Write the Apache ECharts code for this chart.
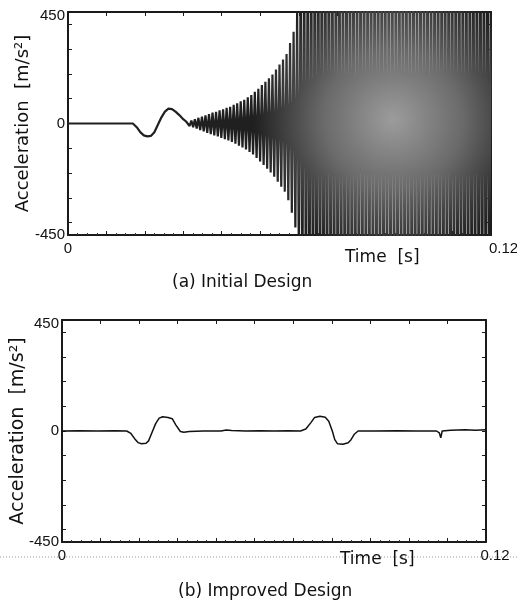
<!DOCTYPE html>
<html>
<head>
<meta charset="utf-8">
<script src="https://cdn.jsdelivr.net/npm/echarts@6/dist/echarts.min.js"></script>
<style>
  html, body { margin: 0; padding: 0; background: #fff; }
  #chart { width: 517px; height: 603px; }
</style>
</head>
<body>
<div id="chart"></div>
<script>
// ========== 数据 ==========
// (a) 初期设计：起始段 [时间 s, 加速度 m/s²]
const bumpA = [
  [0, 0], [0.0184, 0], [0.0195, -15], [0.0205, -35], [0.0215, -48], [0.0225, -52],
  [0.0235, -50], [0.0245, -35], [0.0255, -5], [0.0265, 25], [0.0275, 48], [0.0285, 60],
  [0.0295, 58], [0.0305, 48], [0.0315, 35], [0.0325, 20], [0.0335, 8]
];
// (a) 发散振动段：从 oscStartA 开始，每 oscStepA 秒一个采样
const oscStartA = 0.034;
const oscStepA = 0.0005;
const oscA = [
  8, -10, 12, -15, 17, -20, 23, -27, 28, -32, 33, -38, 38, -43, 44, -48, 47, -52, 53, -58,
  57, -63, 63, -68, 67, -74, 75, -82, 82, -90, 90, -97, 96, -105, 106, -115, 115, -125, 128, -139,
  140, -153, 155, -167, 168, -183, 183, -198, 198, -215, 218, -235, 238, -255, 258, -275, 280, -310, 325, -360,
  370, -420, 450,
  -560, 600, -640, 680, -720, 700, -760, 740, -800, 780,
  -820, 800, -780, 820, -840, 790, -810, 830, -800, 770,
  -790, 810, -830, 800, -780, 760, -800, 820, -840, 810,
  -790, 800, -820, 780, -760, 790, -810, 830, -800, 780,
  -770, 800, -820, 840, -810, 790, -800, 820, -830, 800,
  -780, 760, -790, 810, -820, 800, -780, 790, -810, 830,
  -800, 770, -790, 810, -830, 800, -780, 760, -800, 820,
  -840, 810, -790, 800, -820, 780, -760, 790, -810, 830,
  -800, 780, -770, 800, -820, 840, -810, 790, -800, 820,
  -830, 800, -780, 760, -790, 810, -820, 800, -780, 790,
  -810, 830, -800, 770, -790, 810, -830, 800, -780, 760
];
// (b) 改进设计 [时间 s, 加速度 m/s²]
const dataB = [
  [0, 0], [0.005, 1], [0.010, 0], [0.015, 1], [0.0183, 0], [0.0195, -10], [0.0205, -30],
  [0.0215, -47], [0.0225, -52], [0.0238, -50], [0.0245, -40], [0.0255, -5], [0.0265, 30],
  [0.0275, 52], [0.0285, 58], [0.0300, 55], [0.0312, 50], [0.0322, 25], [0.0335, -2],
  [0.0345, -5], [0.036, -2], [0.040, 0], [0.045, 0], [0.0465, 4], [0.048, 2], [0.052, 0],
  [0.056, 1], [0.060, 0], [0.064, 1], [0.0675, 0], [0.069, 8], [0.0705, 35], [0.0715, 55],
  [0.073, 60], [0.0745, 56], [0.0755, 40], [0.0765, 0], [0.0772, -35], [0.078, -52],
  [0.0795, -54], [0.081, -48], [0.0818, -35], [0.0828, -12], [0.0838, 0], [0.088, 0],
  [0.095, 1], [0.100, 0], [0.106, 0], [0.1068, -8], [0.1072, -28], [0.1076, 0],
  [0.110, 3], [0.114, 5], [0.117, 3], [0.120, 5]
];

// ========== 刻度 ==========
const xTicks = [0.0109, 0.0218, 0.0327, 0.0436, 0.0545, 0.0655, 0.0764, 0.0873, 0.0982, 0.1091];
const xLabels = [0, 0.12];
const yTicks = [-400, -300, -200, -100, 0, 100, 200, 300, 400];
const yLabels = [-450, 0, 450];

// 次刻度：每个主刻度区间分 4 份
const xMinorTicks = [];
const allMajor = [0].concat(xTicks, [0.12]);
for (let i = 0; i < allMajor.length - 1; i++) {
  const step = (allMajor[i + 1] - allMajor[i]) / 4;
  for (let k = 1; k < 4; k++) xMinorTicks.push(allMajor[i] + step * k);
}

const seriesA = bumpA.concat(
  oscA.map((v, i) => [Number((oscStartA + i * oscStepA).toFixed(5)), v])
);

// ========== 坐标轴工厂 ==========
const FONT = 'DejaVu Sans';
const NUM_FONT = 'Liberation Sans';
const frameLine = { show: true, onZero: false, lineStyle: { color: '#1a1a1a', width: 2 } };
const tickStyle = { color: '#1a1a1a', width: 1 };

// endShift：右端 "0.12" 文字向右偏移的量
const makeXAxes = (gridIndex, endShift) => [
  {
    type: 'value', gridIndex, min: 0, max: 0.12, position: 'bottom',
    axisLine: frameLine,
    splitLine: { show: false },
    axisTick: { show: true, inside: true, length: 4, customValues: xTicks, lineStyle: tickStyle },
    axisLabel: {
      customValues: xLabels, margin: 6, color: '#111', fontSize: 15, fontFamily: NUM_FONT,
      formatter: (v) => (v === 0 ? '0' : '{end|' + v + '}'),
      rich: { end: { fontSize: 15, fontFamily: NUM_FONT, color: '#111', padding: [0, 0, 0, endShift] } }
    }
  },
  {
    type: 'value', gridIndex, min: 0, max: 0.12, position: 'bottom',
    axisLine: { show: false, onZero: false },
    splitLine: { show: false },
    axisTick: { show: true, inside: true, length: 2, customValues: xMinorTicks,
      lineStyle: { color: '#333', width: 1 } },
    axisLabel: { show: false }
  },
  {
    type: 'value', gridIndex, min: 0, max: 0.12, position: 'top',
    axisLine: frameLine,
    splitLine: { show: false },
    axisTick: { show: true, inside: true, length: 4, customValues: xTicks, lineStyle: tickStyle },
    axisLabel: { show: false }
  }
];

const makeYAxes = (gridIndex, nameSize, nameGap) => [
  {
    type: 'value', gridIndex, min: -450, max: 450, position: 'left',
    name: 'Acceleration  [m/s²]', nameLocation: 'middle', nameGap, nameMoveOverlap: false,
    nameTextStyle: { color: '#111', fontSize: nameSize, fontFamily: FONT },
    axisLine: frameLine,
    splitLine: { show: false },
    axisTick: { show: true, inside: true, length: 4, customValues: yTicks, lineStyle: tickStyle },
    axisLabel: {
      customValues: yLabels, margin: 3, color: '#111', fontSize: 15, fontFamily: NUM_FONT,
      // 顶端 450 稍微下移
      formatter: (v) => (v === 450 ? '{top|450}' : String(v)),
      rich: { top: { fontSize: 15, fontFamily: NUM_FONT, color: '#111', padding: [8, 0, 0, 0] } }
    }
  },
  {
    type: 'value', gridIndex, min: -450, max: 450, position: 'right',
    axisLine: frameLine,
    splitLine: { show: false },
    axisTick: { show: true, inside: true, length: 4, customValues: yTicks, lineStyle: tickStyle },
    axisLabel: { show: false }
  }
];

const textTitle = (text, left, top, size) => ({
  text, left, top, padding: 0,
  textStyle: { color: '#111', fontSize: size, fontWeight: 'normal', fontFamily: FONT }
});

// ========== 渲染 ==========
const chart = echarts.init(document.getElementById('chart'));
chart.setOption({
  backgroundColor: '#fff',
  animation: false,
  title: [
    textTitle('Time  [s]', 345, 249, 17),
    textTitle('(a) Initial Design', 172, 274, 17),
    textTitle('Time  [s]', 340, 551, 17),
    textTitle('(b) Improved Design', 178, 583, 17)
  ],
  grid: [
    { left: 68, top: 12, width: 423, height: 223, outerBoundsMode: 'none', containLabel: false },
    { left: 62, top: 320, width: 424, height: 222, outerBoundsMode: 'none', containLabel: false }
  ],
  xAxis: makeXAxes(0, 25).concat(makeXAxes(1, 18)),
  yAxis: makeYAxes(0, 18, 36).concat(makeYAxes(1, 19, 34)),
  series: [
    {
      name: 'Initial Design',
      type: 'line',
      xAxisIndex: 0,
      yAxisIndex: 0,
      data: seriesA,
      showSymbol: false,
      clip: true,
      lineStyle: {
        width: 2.2,
        color: new echarts.graphic.RadialGradient(0.765, 0.49, 0.33, [
          { offset: 0, color: '#9c9c9c' },
          { offset: 0.5, color: '#6a6a6a' },
          { offset: 1, color: '#202020' }
        ])
      }
    },
    {
      name: 'Improved Design',
      type: 'line',
      xAxisIndex: 3,
      yAxisIndex: 2,
      data: dataB,
      showSymbol: false,
      clip: true,
      lineStyle: { color: '#111', width: 1.5 }
    }
  ],
  graphic: [
    {
      type: 'line',
      shape: { x1: 0, y1: 557, x2: 517, y2: 557 },
      style: { stroke: '#999', lineWidth: 1, lineDash: [1, 2] },
      z: -1
    }
  ]
});
</script>
</body>
</html>
